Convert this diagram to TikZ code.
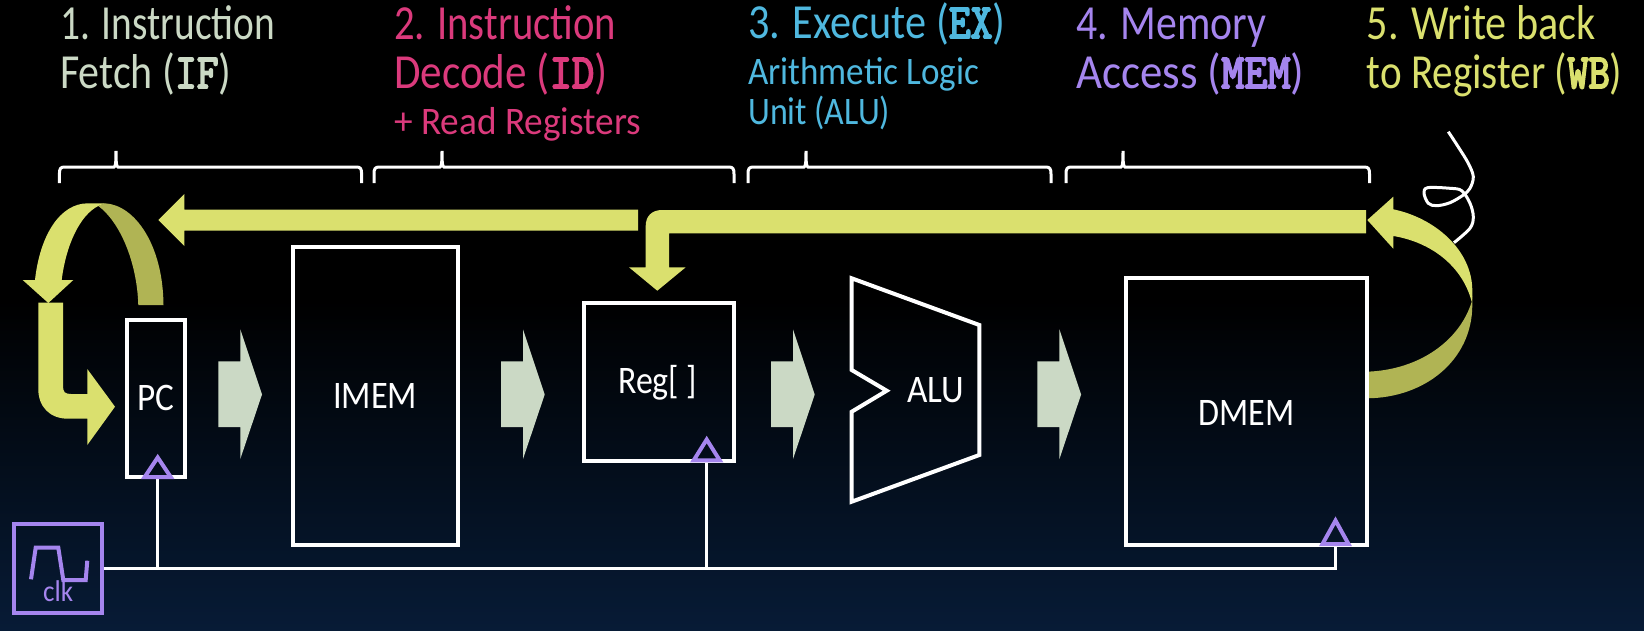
\documentclass[tikz,border=0pt]{standalone}
\usepackage{fontspec}
\usepackage{graphicx}
\setmainfont{Carlito}
\newfontfamily\codefont[FakeBold=4]{Latin Modern Mono}
\definecolor{bgnavy}{HTML}{071B36}
\definecolor{cyel}{HTML}{DAE06E}
\definecolor{cyeld}{HTML}{B0B454}
\definecolor{cgrn}{HTML}{CBD9C5}
\definecolor{cpink}{HTML}{DB3A7C}
\definecolor{cblue}{HTML}{4FB8DF}
\definecolor{cpur}{HTML}{A585EE}
\newcommand{\fitw}[2]{\resizebox{#1pt}{\height}{#2}}
\newcommand{\code}[1]{{\codefont #1}}
\tikzset{
  x=1pt,y=-1pt,
  lab/.style={anchor=base west,inner sep=0pt,font=\fontsize{49}{49}\selectfont},
  sublab/.style={anchor=base west,inner sep=0pt,font=\fontsize{39}{39}\selectfont},
  blk/.style={draw=white,line width=4pt,inner sep=0pt},
  blktxt/.style={inner sep=0pt,text=white,font=\fontsize{39}{39}\selectfont,anchor=base west},
  yarrow/.style={fill=cyel,draw=none},
  yarrowd/.style={fill=cyeld,draw=none},
  garrow/.style={fill=cgrn,draw=none},
  brk/.style={draw=white,line width=3pt},
  clkline/.style={draw=white,line width=2.8pt},
  trig/.style={draw=cpur,line width=4pt,line join=miter},
}
\newcommand{\bracketfig}[3]{%
  \draw[brk] (#1,183) -- (#1,174) .. controls (#1,169) and (#1+1,167) .. (#1+5,167) -- (#2-2,167) .. controls (#2-0.5,167) and (#2,163) .. (#2,151) .. controls (#2,163) and (#2+0.5,167) .. (#2+2,167) -- (#3-5,167) .. controls (#3-1,167) and (#3,169) .. (#3,174) -- (#3,183);}
\newcommand{\greenarrow}[1]{%
  \fill[garrow] (#1,361.3) -- (#1+22,361.3) -- (#1+22,329.3) -- (#1+43.7,394.5) -- (#1+22,459) -- (#1+22,427) -- (#1,427) -- cycle;}
\begin{document}
\begin{tikzpicture}
\useasboundingbox (0,0) rectangle (1644,630);
\fill[black] (0,0) rectangle (1644,300);
\shade[top color=black,bottom color=bgnavy] (0,300) rectangle (1644,630);

% left loop arrow
\fill[yarrowd] (138.3,305) .. controls (137,262) and (120,222) .. (98.3,206) -- (105,203.3) .. controls (135,205) and (163,245) .. (163.5,305) -- cycle;
\fill[yarrow] (35,280) .. controls (40,235) and (60,203.3) .. (88,203.3) -- (105,203.3) -- (98.3,206) .. controls (80,215) and (66,245) .. (61.7,280) -- (73.3,280) -- (48.3,303) -- (22.7,280) -- cycle;
\fill[yarrow] (38.3,302.7) -- (63,302.7) -- (63,386) .. controls (63,392) and (65,394) .. (71,394) -- (87.3,394) -- (87.3,369) -- (115,406.7) -- (87.3,445) -- (87.3,418.7) -- (68,418.7) .. controls (50,418.7) and (38.3,407) .. (38.3,389) -- cycle;
% top arrows
\fill[yarrow] (638,209.5) -- (184.3,209.5) -- (184.3,194) -- (158.3,220) -- (184.3,246) -- (184.3,230.6) -- (638,230.6) -- cycle;
\fill[yarrow] (1366,210) -- (662,210) .. controls (652,210) and (645.7,216) .. (645.7,226) -- (645.7,267.3) -- (629,267.3) -- (657.3,290.7) -- (685.7,267.3) -- (669,267.3) -- (669,233.3) -- (1366,233.3) -- cycle;
% right loop arrow
\fill[yarrowd] (1471.7,301.7) .. controls (1460,340) and (1420,370) .. (1366.7,371.7) -- (1366.7,398.3) .. controls (1425,398) and (1472.3,360) .. (1472.3,305) -- (1472.3,296) -- cycle;
\fill[yarrow] (1393.3,209.3) -- (1393.3,196.7) -- (1367.3,220) -- (1393.3,248.7) -- (1393.3,236) .. controls (1430,242) and (1462,265) .. (1471.7,301.7) -- (1472.3,296) -- (1472.3,290) .. controls (1472,250) and (1435,218) .. (1393.3,209.3) -- cycle;
% scribble
\draw[white,line width=3pt,line join=round] plot[smooth,tension=0.55] coordinates {(1448.3,131.7) (1458.3,147) (1468.3,163.3) (1473.3,176.7) (1470,188.3) (1463.3,195) (1450,202.7) (1436.7,205.7) (1428.3,203.3) (1424,193.3) (1427.7,187.7) (1450,188.3) (1461.7,190.7) (1470,203.3) (1473.3,216.7) (1470,228.3) (1454,242.7)};

% green arrows
\greenarrow{218.3}
\greenarrow{501}
\greenarrow{771}
\greenarrow{1037.4}

% brackets
\bracketfig{59.4}{116}{361.6}
\bracketfig{374}{442}{734}
\bracketfig{748}{806}{1051}
\bracketfig{1066}{1123}{1369.5}

% blocks
\node[blk,minimum width=57.5pt,minimum height=157.5pt] (pc) at (156,398.5) {};
\node[blktxt] (pct) at (137,410) {\fitw{37}{PC}};
\node[blk,minimum width=165pt,minimum height=298pt] (imem) at (375.2,395.8) {};
\node[blktxt] (imemt) at (333,408) {\fitw{84}{IMEM}};
\node[blk,minimum width=150.5pt,minimum height=158pt] (reg) at (658.8,381.5) {};
\node[blktxt] (regt) at (618,393) {\fitw{79}{Reg[ ]}};
\draw[white,line width=4pt,line join=miter] (851.7,278.3) -- (979.3,325) -- (979.3,455) -- (851.7,501.7) -- (851.7,411.7) -- (886.7,390.7) -- (851.7,370) -- cycle;
\node[blktxt] (alut) at (907,402) {\fitw{57}{ALU}};
\node[blk,minimum width=241pt,minimum height=267pt] (dmem) at (1246.7,411.2) {};
\node[blktxt] (dmemt) at (1198,425) {\fitw{96}{DMEM}};

% clock
\node[draw=cpur,line width=4pt,minimum width=88pt,minimum height=89.5pt,inner sep=0pt] (clk) at (58,568.7) {};
\draw[cpur,line width=4pt,line join=miter] (31,579.3) -- (35.7,547.7) -- (58.3,547.7) -- (63.3,580) -- (85.7,580) -- (87.3,560.7);
\node[inner sep=0pt,text=cpur,anchor=base west,font=\fontsize{30}{30}\selectfont] (clkt) at (43,601) {\fitw{30}{clk}};

\coordinate (pcck) at (157.7,476);
\coordinate (regck) at (706.7,460);
\coordinate (dmemck) at (1335.5,544);
\draw[clkline] (clk.east) -- (dmemck |- clk.east) -- (dmemck);
\draw[clkline] (pcck) -- (pcck |- clk.east);
\draw[clkline] (regck) -- (regck |- clk.east);
\draw[trig] (144.7,477) -- (157.7,457.5) -- (170.7,477) -- cycle;
\draw[trig] (693.7,460.3) -- (706.7,439.5) -- (719.7,460.3) -- cycle;
\draw[trig] (1322.5,544) -- (1335.5,520.5) -- (1348.5,544) -- cycle;

% titles
\node[lab,text=cgrn] (a1) at (60,39) {\fitw{215}{1. Instruction}};
\node[lab,text=cgrn] (a2) at (60,88) {\fitw{171}{Fetch (\code{IF})}};
\node[lab,text=cpink] (b1) at (394,39) {\fitw{222}{2. Instruction}};
\node[lab,text=cpink] (b2) at (394,88) {\fitw{213}{Decode (\code{ID})}};
\node[sublab,text=cpink] (b3) at (394,134) {\fitw{247}{+ Read Registers}};
\node[lab,text=cblue] (c1) at (748,38) {\fitw{257}{3. Execute (\code{EX})}};
\node[sublab,text=cblue] (c2) at (748,84) {\fitw{231}{Arithmetic Logic}};
\node[sublab,text=cblue] (c3) at (748,124) {\fitw{142}{Unit (ALU)}};
\node[lab,text=cpur] (d1) at (1076,39) {\fitw{190}{4. Memory}};
\node[lab,text=cpur] (d2) at (1076,88) {\fitw{228}{Access (\code{MEM})}};
\node[lab,text=cyel] (e1) at (1366.5,39) {\fitw{229}{5. Write back}};
\node[lab,text=cyel] (e2) at (1366.5,88) {\fitw{255.5}{to Register (\code{WB})}};
\end{tikzpicture}
\end{document}
